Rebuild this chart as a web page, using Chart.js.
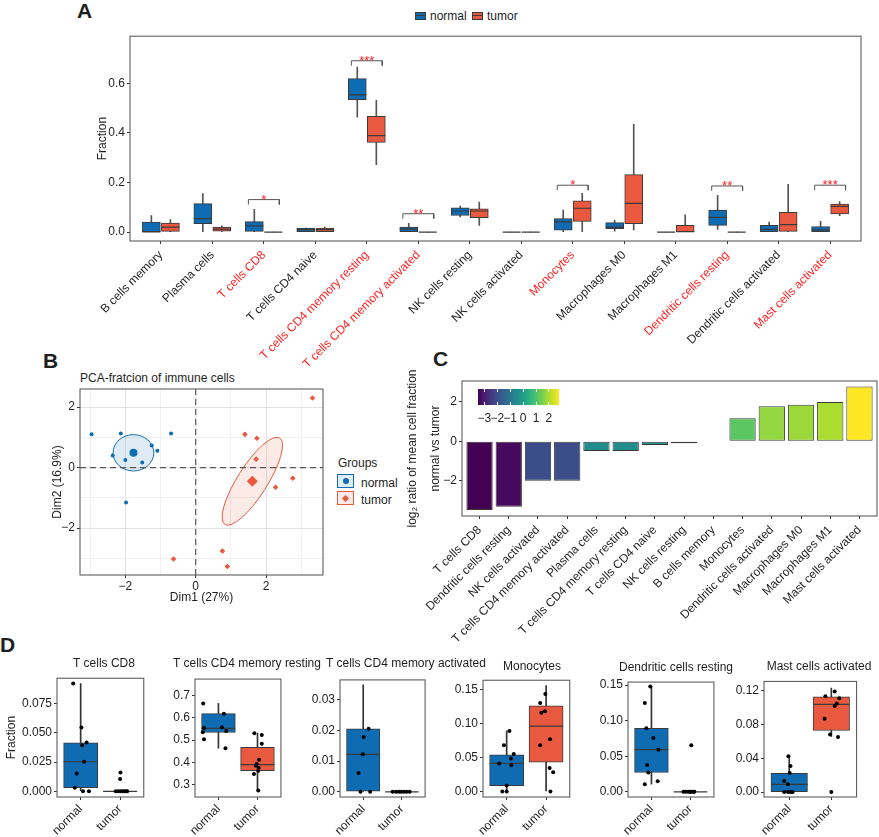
<!DOCTYPE html>
<html lang="en">
<head>
<meta charset="UTF-8" />
<title>Immune cell infiltration</title>
<script src="https://cdn.jsdelivr.net/npm/chart.js@4"></script>
<style>
  body{margin:0;background:#fff;font-family:"Liberation Sans",Arial,sans-serif;color:#1e1e1e}
  #page{position:relative;width:879px;height:837px;overflow:hidden}
  .box{position:absolute}
  .tag{position:absolute;font-weight:bold;font-size:21px;line-height:21px}
  .txt{position:absolute;font-size:12px;line-height:14px;white-space:nowrap}
  .key{position:absolute;box-sizing:border-box}
</style>
</head>
<body>
<div id="page">
  <div class="tag" style="left:77px;top:0">A</div>
  <div class="tag" style="left:43px;top:350px">B</div>
  <div class="tag" style="left:433px;top:348px">C</div>
  <div class="tag" style="left:0;top:634px">D</div>

  <!-- legend A -->
  <div class="key" style="left:415px;top:12px;width:11px;height:8px;background:#0f6cb3;border:1px solid #3a3a3a"><div style="margin-top:2px;height:1px;background:#3a3a3a"></div></div>
  <div class="txt" style="left:430px;top:9px">normal</div>
  <div class="key" style="left:472px;top:12px;width:11px;height:8px;background:#e8593f;border:1px solid #3a3a3a"><div style="margin-top:2px;height:1px;background:#3a3a3a"></div></div>
  <div class="txt" style="left:487px;top:9px">tumor</div>

  <!-- B title + legend -->
  <div class="txt" style="left:80px;top:371px">PCA-fratcion of immune cells</div>
  <div class="txt" style="left:338px;top:456px">Groups</div>
  <div class="key" style="left:337px;top:474px;width:17px;height:14px;border:1px solid #0f6cb3;background:rgba(15,108,179,0.13)"><div style="position:absolute;left:4.5px;top:3px;width:6px;height:6px;border-radius:3px;background:#0f6cb3"></div></div>
  <div class="txt" style="left:361px;top:476px">normal</div>
  <div class="key" style="left:337px;top:491px;width:17px;height:14px;border:1px solid #e8593f;background:rgba(232,89,63,0.13)"><div style="position:absolute;left:5px;top:3.5px;width:5px;height:5px;transform:rotate(45deg);background:#e8593f"></div></div>
  <div class="txt" style="left:361px;top:493px">tumor</div>

  <!-- C colour bar -->
  <div id="cbar" class="box" style="left:478px;top:389px;width:81px;height:16px"></div>
</div>

<script>
// ---- panel A: immune cell fractions (box statistics) ----
const cellTypes = ["B cells memory","Plasma cells","T cells CD8","T cells CD4 naive",
  "T cells CD4 memory resting","T cells CD4 memory activated","NK cells resting",
  "NK cells activated","Monocytes","Macrophages M0","Macrophages M1",
  "Dendritic cells resting","Dendritic cells activated","Mast cells activated"];
// [lower whisker, q1, median, q3, upper whisker]
const normalStats = [
  [0,0,0.001,0.040,0.067],[0,0.034,0.054,0.115,0.155],[0,0.003,0.025,0.042,0.092],
  [0,0,0.010,0.016,0.016],[0.463,0.534,0.553,0.619,0.665],[0,0,0.012,0.0205,0.035],
  [0.061,0.067,0.085,0.098,0.105],[0,0,0,0,0],[0,0.008,0.041,0.054,0.089],
  [0.004,0.0135,0.020,0.038,0.047],[0,0,0,0,0],[0.011,0.027,0.059,0.089,0.148],
  [0,0,0.011,0.027,0.040],[0,0,0.009,0.022,0.043]];
const tumorStats = [
  [0,0.003,0.020,0.036,0.050],[0,0.004,0.012,0.020,0.025],[0,0,0,0,0],
  [0,0,0.010,0.016,0.020],[0.272,0.362,0.389,0.467,0.531],[0,0,0,0,0],
  [0.027,0.058,0.085,0.094,0.121],[0,0,0,0,0],[0,0.043,0.096,0.126,0.156],
  [0.009,0.034,0.116,0.232,0.435],[0,0,0.002,0.027,0.070],[0,0,0,0,0],
  [0,0.003,0.030,0.080,0.193],[0.066,0.073,0.104,0.113,0.123]];
const sigIdx = [2,4,5,8,11,13];
const sigMarks = ["*","***","**","*","**","***"];
const sigY = [0.131,0.691,0.074,0.189,0.186,0.189];
const yTicksA = [0,0.2,0.4,0.6];

// ---- panel B: PCA scores ----
const normalPC1 = [-2.96,-2.13,-0.70,-2.36,-2.00,-1.52,-1.25,-1.09,-1.98];
const normalPC2 = [1.10,1.13,1.13,0.40,0.25,0.17,0.73,0.56,-1.15];
const tumorPC1 = [3.32,1.40,1.74,1.72,2.76,2.27,0.76,0.90,-0.63];
const tumorPC2 = [2.30,1.10,0.97,0.28,-0.35,-0.65,-2.76,-3.27,-3.02];
const meanPC1 = [-1.77,1.61];
const meanPC2 = [0.49,-0.45];
const ellipseU = [[0.58,0],[0.78,1.43]];      // semi-axis vectors, data units
const ellipseV = [[0,0.60],[0.36,-0.265]];
const pcaTicks = [-3,-2,-1,0,1,2,3];

// ---- panel C: log2 ratio of mean fraction ----
const ratioCells = ["T cells CD8","Dendritic cells resting","NK cells activated",
  "T cells CD4 memory activated","Plasma cells","T cells CD4 memory resting",
  "T cells CD4 naive","NK cells resting","B cells memory","Monocytes",
  "Dendritic cells activated","Macrophages M0","Macrophages M1","Mast cells activated"];
const log2Ratio = [-3.49,-3.32,-2.0,-2.0,-0.49,-0.49,-0.19,-0.10,-0.02,1.17,1.78,1.85,2.0,2.78];
const yTicksC = [-2,0,2];
const cbarTicks = [-3,-2,-1,0,1,2];

// ---- panel D: six significant cell types ----
const dTitles = ["T cells CD8","T cells CD4 memory resting","T cells CD4 memory activated",
  "Monocytes","Dendritic cells resting","Mast cells activated"];
const dNormalStats = [[0,0.003,0.0253,0.0416,0.0924],[0.463,0.534,0.553,0.619,0.665],
  [0,0,0.0122,0.0205,0.0348],[0,0.0083,0.0413,0.0541,0.0894],
  [0.0108,0.0272,0.0592,0.0894,0.149],[0,0,0.0091,0.0221,0.0428]];
const dTumorStats = [[0,0,0,0,0],[0.272,0.362,0.389,0.467,0.531],[0,0,0,0,0],
  [0,0.0431,0.0963,0.1261,0.156],[0,0,0,0,0],[0.066,0.0729,0.1037,0.1128,0.1229]];
const dNormalPts = [
  [0.0924,0.0546,0.0394,0.0418,0.0253,0.0152,0.003,0,0],
  [0.665,0.619,0.558,0.554,0.541,0.535,0.504,0.463],
  [0.0205,0.0178,0.0122,0.0061,0,0],
  [0.089,0.0679,0.055,0.0486,0.0413,0.0385,0.0087,0,0],
  [0.148,0.125,0.0894,0.0756,0.0592,0.0376,0.0272,0.015,0.0108],
  [0.0424,0.0308,0.0225,0.0131,0.0094,0,0,0,0]];
const dNormalJit = [
  [-0.19,0.02,0.04,0.15,0.09,-0.10,-0.15,0.06,0.21],
  [-0.39,0.14,0.09,-0.37,0.2,-0.4,-0.37,0.18],
  [0.14,0.01,-0.01,-0.12,-0.07,0.18],
  [0.07,-0.07,0.18,0.11,-0.19,0.12,0,-0.11,0],
  [-0.03,-0.17,-0.13,0.05,0.18,-0.11,-0.08,0.16,-0.17],
  [-0.02,0.03,0.01,-0.12,-0.03,-0.12,-0.03,0.08,0.03]];
const dTumorPts = [
  [0.016,0.0106,0,0,0,0,0,0,0],
  [0.531,0.523,0.483,0.411,0.392,0.384,0.374,0.361,0.347,0.272],
  [0,0,0,0,0,0,0],
  [0.1436,0.1303,0.1184,0.1161,0.0771,0.0679,0.0344,0.0284,0],
  [0.0653,0,0,0,0,0,0,0,0],
  [0.1189,0.1135,0.1109,0.1048,0.1019,0.0867,0.0682,0.0653,0]];
const dTumorJit = [
  [0.01,0,-0.11,-0.05,0.01,0.06,0.11,0.15,0.18],
  [-0.08,0.11,0.11,0.04,-0.02,-0.04,0.03,0.02,-0.09,0.02],
  [-0.24,-0.15,-0.08,-0.02,0.05,0.12,0.2],
  [-0.02,-0.15,-0.03,-0.12,0.1,-0.15,0.09,0.18,0.11],
  [0.02,-0.18,-0.12,-0.06,0,0.04,0.08,0.1,-0.02],
  [0.08,-0.14,0.19,0.13,0.08,-0.16,-0.03,0.16,0]];
const dYMin = [-0.0049,0.243,-0.0017,-0.0083,-0.0073,-0.0058];
const dYMax = [0.0969,0.775,0.0364,0.164,0.1543,0.1309];
const dYTicks = [[0,0.025,0.05,0.075],[0.3,0.4,0.5,0.6,0.7],[0,0.01,0.02,0.03],
  [0,0.05,0.1,0.15],[0,0.05,0.1,0.15],[0,0.04,0.08,0.12]];
const dDigits = [3,1,2,2,2,2];
const groups = ["normal","tumor"];

// ---- style + layout ----
const BLUE = '#0f6cb3', RED = '#e8593f', EDGE = '#3a3a3a', SIGRED = '#ff1f1f';
const viridisStops = ['#440154','#482475','#414487','#355f8d','#2a788e','#21918c',
  '#22a884','#44bf70','#7ad151','#bddf26','#fde725'];
// chart divs for D: left, top, width, y-axis width, title centre
const dLayout = [
  {l:0,t:660,w:162,yw:57,titleX:104,titleY:656},
  {l:150,t:661,w:149,yw:45,titleX:247,titleY:656},
  {l:295,t:662,w:148,yw:45,titleX:406,titleY:656},
  {l:440,t:662,w:148,yw:43,titleX:532,titleY:659},
  {l:585,t:664,w:147,yw:43,titleX:676,titleY:660},
  {l:730,t:662,w:146,yw:34,titleX:819,titleY:659}];

Chart.defaults.font.family = '"Liberation Sans", Arial, sans-serif';
Chart.defaults.font.size = 12;
Chart.defaults.color = '#1e1e1e';
Chart.defaults.animation = false;
Chart.defaults.responsive = true;
Chart.defaults.maintainAspectRatio = false;
Chart.defaults.plugins.legend.display = false;
Chart.defaults.plugins.tooltip.enabled = false;

// grey panel border
Chart.register({id:'frame', afterDatasetsDraw(chart){
  const {ctx, chartArea:a} = chart;
  ctx.save(); ctx.strokeStyle = '#5e5e5e'; ctx.lineWidth = 1.1;
  ctx.strokeRect(a.left, a.top, a.right - a.left, a.bottom - a.top); ctx.restore();
}});

const page = document.getElementById('page');
function place(l, t, w, h){
  const d = document.createElement('div');
  d.className = 'box';
  d.style.cssText = `left:${l}px;top:${t}px;width:${w}px;height:${h}px`;
  const c = document.createElement('canvas');
  d.appendChild(c); page.appendChild(d);
  return c;
}
function hex2rgb(h){return [1,3,5].map(i=>parseInt(h.substr(i,2),16));}
function viridis(t){
  t = Math.min(1, Math.max(0, t));
  const p = t*(viridisStops.length-1), i = Math.min(Math.floor(p), viridisStops.length-2), f = p-i;
  const a = hex2rgb(viridisStops[i]), b = hex2rgb(viridisStops[i+1]);
  return `rgb(${a.map((v,k)=>Math.round(v+(b[k]-v)*f)).join(',')})`;
}
const minus = v => String(v).replace('-', '\u2212');
const tickGrid = {drawOnChartArea:false, tickLength:3, tickColor:'#333', offset:false};

function yAxis(min, max, ticks, fmt, width, title){
  return {type:'linear', min, max,
    afterBuildTicks: s => { s.ticks = ticks.map(v => ({value:v})); },
    afterFit: s => { s.width = width; },
    border:{display:false}, grid:tickGrid,
    ticks:{padding:2, callback:fmt, color:'#1e1e1e'},
    title: title || {display:false}};
}
function catAxis(n, names, height, pad, tickColor){
  return {type:'linear', min:0.4, max:n+0.6, offset:false,
    afterBuildTicks: s => { s.ticks = names.map((c,i) => ({value:i+1})); },
    afterFit: s => { s.height = height; },
    border:{display:false}, grid:tickGrid,
    ticks:{padding:pad, autoSkip:false, minRotation:45, maxRotation:45,
      color: tickColor || '#1e1e1e', callback: v => names[v-1]}};
}
function boxSets(stats, pos, fill, thick, medR, whisk){
  return [
    {type:'bar', data: stats.map((s,i) => ({x:pos(i), y:[s[0],s[4]]})),
      backgroundColor: whisk, barThickness:1, grouped:false, order:4},
    {type:'bar', data: stats.map((s,i) => ({x:pos(i), y:[s[1],s[3]]})),
      backgroundColor: fill, borderColor: EDGE, borderWidth:1, borderSkipped:false,
      barThickness: thick, grouped:false, order:3},
    {type:'scatter', data: stats.map((s,i) => ({x:pos(i), y:s[2]})),
      pointStyle:'line', pointRadius: medR, pointBorderColor: EDGE, pointBorderWidth:1.2, order:2}
  ];
}

// ================= A =================
const dodge = 0.185;
const bracketSets = sigIdx.map((c,k) => ({type:'line',
  data:[{x:c+1-0.3,y:sigY[k]-0.02},{x:c+1-0.3,y:sigY[k]},{x:c+1+0.3,y:sigY[k]},{x:c+1+0.3,y:sigY[k]-0.02}],
  borderColor:'#555', borderWidth:1, pointRadius:0, fill:false, order:1}));
new Chart(place(90, 26, 789, 350), {
  type:'bar',
  data:{datasets:[
    ...boxSets(normalStats, i => i+1-dodge, BLUE, 18, 9, '#555'),
    ...boxSets(tumorStats, i => i+1+dodge, RED, 18, 9, '#555'),
    ...bracketSets]},
  options:{
    layout:{padding:{top:10, right:18, left:0, bottom:0}},
    scales:{
      x: catAxis(cellTypes.length, cellTypes, 135, 4,
        c => sigIdx.includes(c.tick.value-1) ? SIGRED : '#1e1e1e'),
      y: yAxis(-0.036, 0.79, yTicksA, v => v.toFixed(1), 40,
        {display:true, text:'Fraction', padding:{top:5}})
    }
  },
  plugins:[{id:'stars', afterDatasetsDraw(chart){
    const {ctx, scales:{x, y}} = chart;
    ctx.save(); ctx.fillStyle = SIGRED; ctx.font = '13px "Liberation Sans", Arial';
    ctx.textAlign = 'center'; ctx.textBaseline = 'alphabetic';
    sigIdx.forEach((c,k) => ctx.fillText(sigMarks[k], x.getPixelForValue(c+1), y.getPixelForValue(sigY[k]) + 4));
    ctx.restore();
  }}]
});

// ================= B =================
const bX = [-3.29, 3.62], bY = [-3.55, 2.6];
const pcaGrid = {tickLength:3, offset:false,
  color: c => (c.tick && c.tick.value % 2 === 0) ? '#e2e2e2' : '#f1f1f1',
  tickColor: c => (c.tick && c.tick.value % 2 === 0) ? '#333' : 'rgba(0,0,0,0)'};
const pcaLabel = v => v % 2 === 0 ? minus(v) : '';
new Chart(place(40, 377, 300, 230), {
  type:'scatter',
  data:{datasets:[
    {data: normalPC1.map((x,i) => ({x, y:normalPC2[i]})), pointStyle:'circle', pointRadius:2,
      pointBackgroundColor:BLUE, pointBorderWidth:0, order:2},
    {data: tumorPC1.map((x,i) => ({x, y:tumorPC2[i]})), pointStyle:'rectRot', pointRadius:2.8,
      pointBackgroundColor:RED, pointBorderWidth:0, order:2},
    {data:[{x:meanPC1[0], y:meanPC2[0]}], pointStyle:'circle', pointRadius:4,
      pointBackgroundColor:BLUE, pointBorderWidth:0, order:1},
    {data:[{x:meanPC1[1], y:meanPC2[1]}], pointStyle:'rectRot', pointRadius:5.5,
      pointBackgroundColor:RED, pointBorderWidth:0, order:1},
    {type:'line', data:[{x:0,y:bY[0]},{x:0,y:bY[1]}], borderColor:'#555', borderWidth:1.2,
      borderDash:[6,4], pointRadius:0, order:5},
    {type:'line', data:[{x:bX[0],y:0},{x:bX[1],y:0}], borderColor:'#555', borderWidth:1.2,
      borderDash:[6,4], pointRadius:0, order:5}]},
  options:{
    layout:{padding:{top:12, right:17, left:0, bottom:0}},
    scales:{
      x:{type:'linear', min:bX[0], max:bX[1],
        afterBuildTicks: s => { s.ticks = pcaTicks.map(v => ({value:v})); },
        afterFit: s => { s.height = 32; },
        border:{display:false}, grid:pcaGrid,
        ticks:{padding:1, callback:pcaLabel, maxRotation:0},
        title:{display:true, text:'Dim1 (27%)', padding:{top:0, bottom:2.5}}},
      y:{type:'linear', min:bY[0], max:bY[1],
        afterBuildTicks: s => { s.ticks = pcaTicks.filter(v => v <= 2).map(v => ({value:v})); },
        afterFit: s => { s.width = 40; },
        border:{display:false}, grid:pcaGrid,
        ticks:{padding:2, callback:pcaLabel},
        title:{display:true, text:'Dim2 (16.9%)', padding:{top:10}}}
    }
  },
  plugins:[{id:'ellipses', beforeDatasetsDraw(chart){
    const {ctx, chartArea:a, scales:{x, y}} = chart;
    const line = [BLUE, RED], fill = ['rgba(15,108,179,0.13)', 'rgba(232,89,63,0.13)'];
    ctx.save();
    ctx.beginPath(); ctx.rect(a.left, a.top, a.right-a.left, a.bottom-a.top); ctx.clip();
    meanPC1.forEach((mx, g) => {
      const my = meanPC2[g], u = ellipseU[g], v = ellipseV[g];
      const cx = x.getPixelForValue(mx), cy = y.getPixelForValue(my);
      const ux = x.getPixelForValue(mx+u[0])-cx, uy = y.getPixelForValue(my+u[1])-cy;
      const vx = x.getPixelForValue(mx+v[0])-cx, vy = y.getPixelForValue(my+v[1])-cy;
      ctx.beginPath();
      ctx.save(); ctx.transform(ux, uy, vx, vy, cx, cy); ctx.arc(0, 0, 1, 0, Math.PI*2); ctx.restore();
      ctx.fillStyle = fill[g]; ctx.fill();
      ctx.strokeStyle = line[g]; ctx.lineWidth = 1; ctx.stroke();
    });
    ctx.restore();
  }}]
});

// ================= C =================
const cMin = Math.min(...log2Ratio), cMax = Math.max(...log2Ratio);
new Chart(place(380, 369, 499, 280), {
  type:'bar',
  data:{datasets:[{data: log2Ratio.map((v,i) => ({x:i+1, y:v})),
    backgroundColor: log2Ratio.map(v => viridis((v-cMin)/(cMax-cMin))),
    borderColor:EDGE, borderWidth:1, borderSkipped:false,
    categoryPercentage:0.9, barPercentage:1}]},
  options:{
    layout:{padding:{top:12, right:2, left:0, bottom:0}},
    scales:{
      x: catAxis(ratioCells.length, ratioCells, 133, 4),
      y: yAxis(-3.79, 3.06, yTicksC, v => minus(v), 82,
        {display:true, text:['log\u2082 ratio of mean cell fraction','normal vs tumor'],
         padding:{top:22}, font:{size:12, lineHeight:1.85}})
    }
  }
});
// colour bar legend
(function(){
  const bar = document.getElementById('cbar');
  bar.style.background = `linear-gradient(to right, ${viridisStops.join(',')})`;
  cbarTicks.forEach(v => {
    const px = (v - cMin) / (cMax - cMin) * 81;
    ['0','13'].forEach(top => {
      const m = document.createElement('div');
      m.style.cssText = `position:absolute;left:${px-0.5}px;top:${top}px;width:1px;height:3px;background:#fff`;
      bar.appendChild(m);
    });
    const t = document.createElement('div');
    t.className = 'txt';
    t.style.cssText = `left:${478+px-10}px;top:411px;width:20px;text-align:center`;
    t.textContent = minus(v);
    page.appendChild(t);
  });
})();

// ================= D =================
dTitles.forEach((title, k) => {
  const L = dLayout[k];
  const h = 837 - L.t;
  const c = place(L.l, L.t, L.w, h);
  const step = (L.w - 5 - L.yw) / 2.2;
  const pts = (vals, jit, g) => vals.map((v,i) => ({x:g+1+jit[i], y:v}));
  new Chart(c, {
    type:'bar',
    data:{datasets:[
      ...boxSets([dNormalStats[k]], i => 1, BLUE, step*0.75, step*0.375, '#333'),
      ...boxSets([dTumorStats[k]], i => 2, RED, step*0.75, step*0.375, '#333'),
      {type:'scatter', data: pts(dNormalPts[k], dNormalJit[k], 0).concat(pts(dTumorPts[k], dTumorJit[k], 1)),
        pointStyle:'circle', pointRadius:2, pointBackgroundColor:'#000', pointBorderWidth:0, order:0}]},
    options:{
      layout:{padding:{top:12, right:5, left:0, bottom:0}},
      scales:{
        x: catAxis(2, groups, 40, 2),
        y: yAxis(dYMin[k], dYMax[k], dYTicks[k], v => v.toFixed(dDigits[k]), L.yw,
          k === 0 ? {display:true, text:'Fraction', padding:{top:4}} : null)
      }
    }
  });
  const t = document.createElement('div');
  t.className = 'txt';
  t.style.cssText = `left:${L.titleX-100}px;top:${L.titleY}px;width:200px;text-align:center`;
  t.textContent = title;
  page.appendChild(t);
});
</script>
</body>
</html>
